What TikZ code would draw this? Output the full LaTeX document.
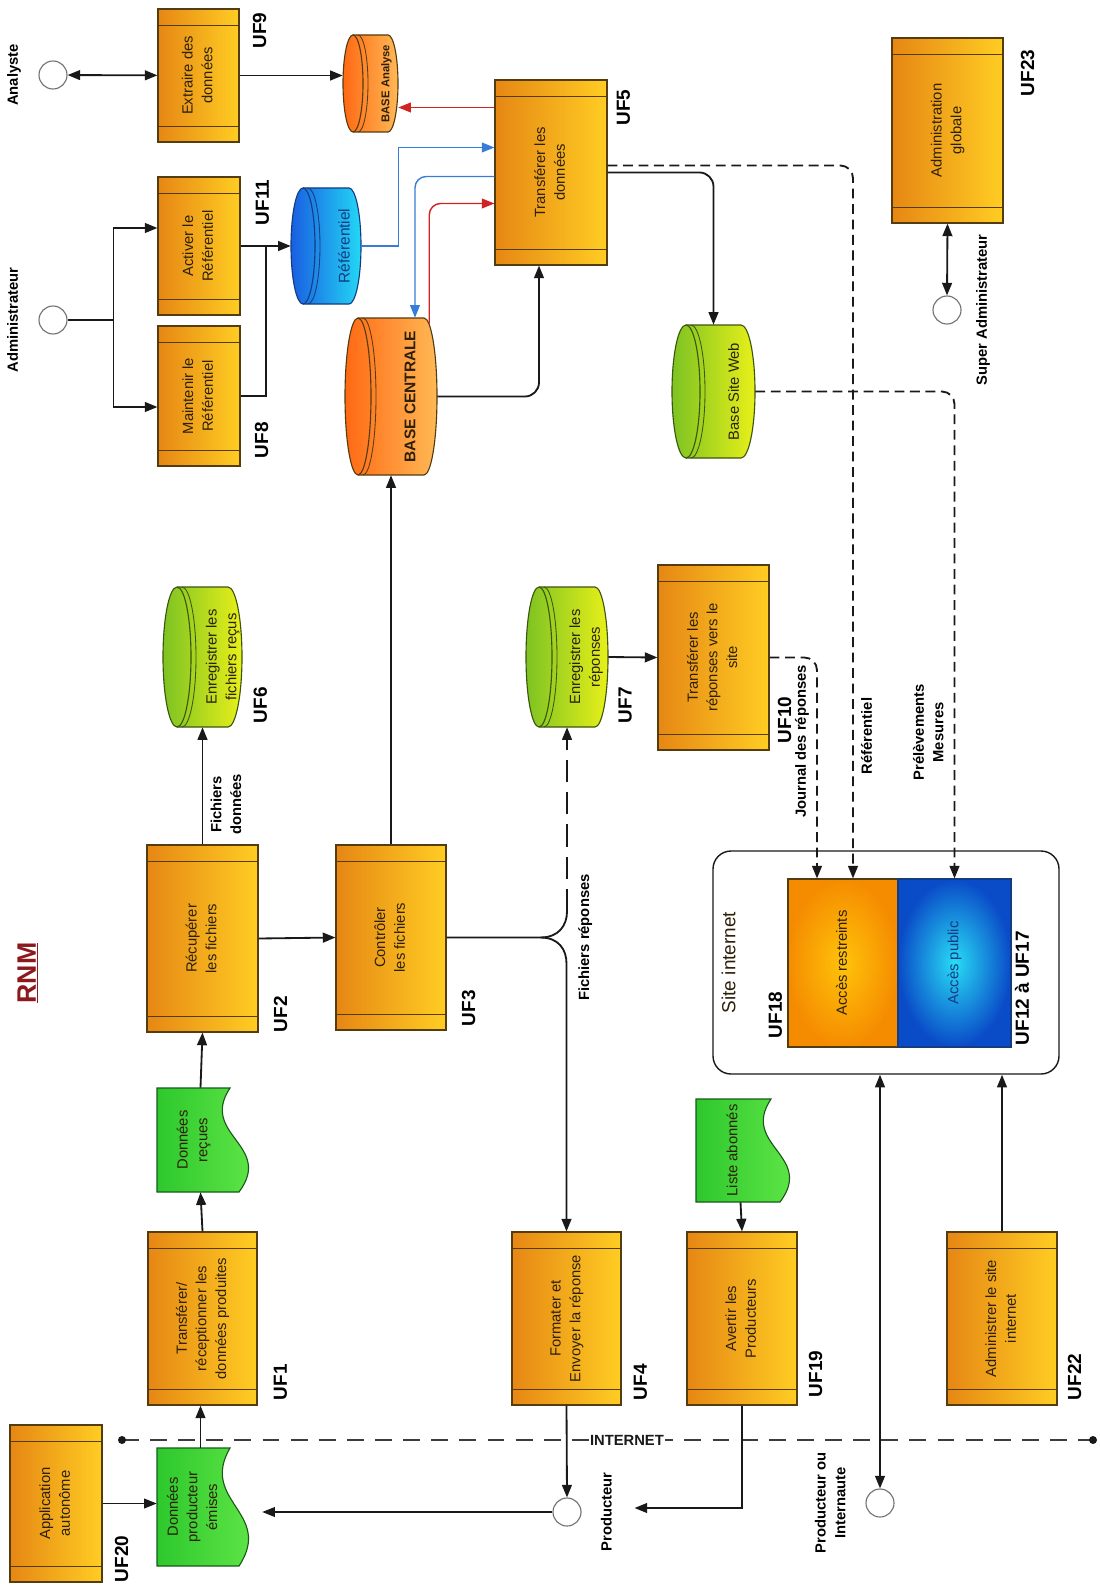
\documentclass[tikz,border=0pt]{standalone}
\usepackage{fontspec}
\setmainfont{Liberation Sans}
\usepackage{graphicx}
\usetikzlibrary{arrows.meta, positioning, calc, fit}

\definecolor{procL}{RGB}{230,135,20}
\definecolor{procR}{RGB}{255,205,35}
\definecolor{procline}{RGB}{85,60,15}
\definecolor{baseL}{RGB}{255,105,20}
\definecolor{baseR}{RGB}{255,185,85}
\definecolor{refL}{RGB}{25,95,225}
\definecolor{refR}{RGB}{35,215,245}
\definecolor{refline}{RGB}{20,60,130}
\definecolor{greenL}{RGB}{125,195,35}
\definecolor{greenR}{RGB}{232,240,25}
\definecolor{greenline}{RGB}{60,85,15}
\definecolor{docL}{RGB}{45,200,45}
\definecolor{docR}{RGB}{105,235,75}
\definecolor{docline}{RGB}{25,90,25}
\definecolor{arrowred}{RGB}{210,35,35}
\definecolor{arrowblue}{RGB}{55,125,215}
\definecolor{titlered}{RGB}{140,25,30}
\definecolor{textdark}{RGB}{45,32,10}
\definecolor{linecol}{RGB}{25,25,25}
\definecolor{pubin}{RGB}{40,220,245}
\definecolor{pubout}{RGB}{10,75,200}
\definecolor{resin}{RGB}{255,195,10}
\definecolor{resout}{RGB}{245,140,0}

\newcommand{\boxfont}{\fontsize{10.5}{14}\selectfont}
\newcommand{\uffont}{\fontsize{13.5}{15}\selectfont\bfseries}
\newcommand{\labfont}{\fontsize{10.5}{14}\selectfont\bfseries}
\newcommand{\uptext}[1]{\rotatebox{90}{\begin{tabular}{@{}c@{}}#1\end{tabular}}}

% cylinder lying on its side: name, x0, y0, x1, y1, end radius, shading, line colour, text
\newcommand{\basecyl}[9]{%
  \path[#7, draw=#8, line width=0.8pt]
    (#2+#6,#3) -- (#4-#6,#3)
    arc[start angle=-90, end angle=90, x radius=#6, y radius={(#5-#3)/2}]
    -- (#2+#6,#5)
    arc[start angle=90, end angle=270, x radius=#6, y radius={(#5-#3)/2}] -- cycle;
  \draw[#8, line width=0.8pt] (#2+#6,#3)
    arc[start angle=-90, end angle=90, x radius=#6, y radius={(#5-#3)/2}];
  \draw[#8, line width=0.6pt] (#2+#6+5,#3)
    arc[start angle=-90, end angle=90, x radius=#6, y radius={(#5-#3)/2}];
  \node[fit={(#2,#3) (#4,#5)}] (#1) {};
  \node (#1txt) at ({(#2+2*#6+#4)/2+6},{(#3+#5)/2}) {#9};}

% document sheet with a wavy right edge: name, x0, y0, x1, y1, text
\newcommand{\docsheet}[6]{%
  \path[left color=docL, right color=docR, draw=docline, line width=0.8pt]
    (#2,#3) -- (#4-14,#3)
    .. controls (#4-45,{#3+0.45*(#5-#3)}) and (#4+30,{#3+0.55*(#5-#3)}) .. (#4-5,#5)
    -- (#2,#5) -- cycle;
  \node[fit={(#2,#3) (#4,#5)}] (#1) {};
  \node[font=\boxfont] (#1txt) at ({(#2+#4-14)/2},{(#3+#5)/2}) {#6};}

\begin{document}
\begin{tikzpicture}[x=0.025cm, y=-0.025cm,
    every node/.style={inner sep=0pt, text=textdark},
    boxtxt/.style={font=\boxfont, text=textdark},
    procbox/.style={draw=procline, line width=0.8pt, left color=procL, right color=procR,
      path picture={\draw[procline, line width=0.7pt]
        ([yshift=-0.4cm]path picture bounding box.north west) -- ([yshift=-0.4cm]path picture bounding box.north east)
        ([yshift=0.4cm]path picture bounding box.south west) -- ([yshift=0.4cm]path picture bounding box.south east);}},
    actor/.style={circle, draw=black!55, fill=white, line width=0.8pt, minimum size=0.7cm},
    actorlab/.style={font=\labfont, text=black},
    uflab/.style={font=\uffont, text=black},
    edgelab/.style={font=\labfont, text=black},
    endtip/.style={-{Triangle[length=9pt, width=7pt]}},
    flow/.style={draw=linecol, line width=1.3pt, endtip},
    biflow/.style={draw=linecol, line width=1.3pt, {Triangle[length=9pt, width=7pt]}-{Triangle[length=9pt, width=7pt]}},
    plain/.style={draw=linecol, line width=1.3pt},
    dashflow/.style={flow, dash pattern=on 7pt off 4pt, rounded corners=9pt},
    redflow/.style={draw=arrowred, line width=1pt, endtip},
    blueflow/.style={draw=arrowblue, line width=1pt, endtip},
    netline/.style={draw=linecol!85, line width=1.3pt, dash pattern=on 12pt off 8pt}]

  \useasboundingbox (0,0) rectangle (1099,1596);

  % title
  \node[font=\fontsize{19}{21}\selectfont\bfseries, text=titlered] (rnm) at (28,973) {\rotatebox{90}{\underline{RNM}}};

  % actors
  \node[actor] (analyste) at (53,75) {};
  \node[actorlab, left=0.36cm of analyste] (analystelab) {\uptext{Analyste}};
  \node[actor] (admin) at (53,320) {};
  \node[actorlab, left=0.36cm of admin] (adminlab) {\uptext{Administrateur}};
  \node[actor] (superadmin) at (947,310) {};
  \node[actorlab, right=0.28cm of superadmin] (superadminlab) {\uptext{Super Administrateur}};
  \node[actor] (prod) at (567,1512) {};
  \node[actorlab, right=0.4cm of prod] (prodlab) {\uptext{Producteur}};
  \node[actor] (internaute) at (880,1503) {};
  \node[actorlab, left=0.35cm of internaute] (internautelab) {\uptext{Producteur ou\\Internaute}};

  % processes
  \node[procbox, fit={(158,9) (239,142)}, label={[boxtxt]center:\uptext{Extraire des\\données}}] (uf9) {};
  \node[procbox, fit={(158,177) (240,315)}, label={[boxtxt]center:\uptext{Activer le\\Référentiel}}] (uf11) {};
  \node[procbox, fit={(158,326) (240,466)}, label={[boxtxt]center:\uptext{Maintenir le\\Référentiel}}] (uf8) {};
  \node[procbox, fit={(495,80) (607,265)}, label={[boxtxt]center:\uptext{Transférer les\\données}}] (uf5) {};
  \node[procbox, fit={(892,38) (1003,223)}, label={[boxtxt]center:\uptext{Administration\\globale}}] (uf23) {};
  \node[procbox, fit={(147,845) (258,1032)}, label={[boxtxt]center:\uptext{Récupérer\\les fichiers}}] (uf2) {};
  \node[procbox, fit={(336,845) (446,1030)}, label={[boxtxt]center:\uptext{Contrôler\\les fichiers}}] (uf3) {};
  \node[procbox, fit={(658,565) (769,750)}, label={[boxtxt]center:\uptext{Transférer les\\réponses vers le\\site}}] (uf10) {};
  \node[procbox, fit={(148,1232) (257,1405)}, label={[boxtxt]center:\uptext{Transférer/\\réceptionner les\\données produites}}] (uf1) {};
  \node[procbox, fit={(512,1232) (621,1405)}, label={[boxtxt]center:\uptext{Formater et\\Envoyer la réponse}}] (uf4) {};
  \node[procbox, fit={(687,1232) (797,1405)}, label={[boxtxt]center:\uptext{Avertir les\\Producteurs}}] (uf19) {};
  \node[procbox, fit={(947,1232) (1057,1405)}, label={[boxtxt]center:\uptext{Administrer le site\\internet}}] (uf22) {};
  \node[procbox, fit={(10,1425) (102,1582)}, label={[boxtxt]center:\uptext{Application\\autonôme}}] (uf20) {};

  % data stores
  \basecyl{baseana}{343}{35}{398}{132}{10}{left color=baseL, right color=baseR}{procline}{\fontsize{8}{9}\selectfont\bfseries\rotatebox{90}{BASE Analyse}}
  \basecyl{ref}{291}{188}{361}{304}{12}{left color=refL, right color=refR}{refline}{\fontsize{11}{13}\selectfont\color{refline}\rotatebox{90}{Référentiel}}
  \basecyl{bc}{345}{318}{437}{475}{13}{left color=baseL, right color=baseR}{procline}{\fontsize{11}{13}\selectfont\bfseries\rotatebox{90}{BASE CENTRALE}}
  \basecyl{bsw}{672}{325}{755}{458}{14}{left color=greenL, right color=greenR}{greenline}{\fontsize{10.5}{13}\selectfont\rotatebox{90}{Base Site Web}}
  \basecyl{uf6}{163}{587}{242}{727}{14}{left color=greenL, right color=greenR}{greenline}{\boxfont\uptext{Enregistrer les\\fichiers reçus}}
  \basecyl{uf7}{526}{587}{608}{727}{13}{left color=greenL, right color=greenR}{greenline}{\boxfont\uptext{Enregistrer les\\réponses}}

  % documents
  \docsheet{dr}{157}{1088}{244}{1192}{\uptext{Données\\reçues}}
  \docsheet{dpe}{157}{1448}{244}{1566}{\uptext{Données\\producteur\\émises}}
  \docsheet{lab}{696}{1099}{785}{1202}{\uptext{Liste abonnés}}

  % web site
  \node[draw=linecol, line width=1pt, rounded corners=0.45cm, fill=white, fit={(713,851) (1059,1074)}] (site) {};
  \node[font=\fontsize{13.5}{15}\selectfont, anchor=west] (sitelab) at ($(site.west)+(9,0)$) {\rotatebox{90}{Site internet}};
  \node[draw=procline, line width=0.8pt, inner color=resin, outer color=resout, fit={(788,879) (898,1047)},
    label={[boxtxt]center:\uptext{Accès restreints}}] (acr) {};
  \node[draw=refline, line width=0.8pt, inner color=pubin, outer color=pubout, fit={(898,879) (1011,1047)},
    label={[boxtxt, text=refline]center:\uptext{Accès public}}] (acp) {};

  % UF numbers
  \node[uflab, anchor=north west] (n9) at ($(uf9.north east)+(13,4)$) {\rotatebox{90}{UF9}};
  \node[uflab, anchor=north west] (n11) at ($(uf11.north east)+(15,3)$) {\rotatebox{90}{UF11}};
  \node[uflab, anchor=south west] (n8) at ($(uf8.south east)+(14,-8)$) {\rotatebox{90}{UF8}};
  \node[uflab, anchor=north west] (n5) at ($(uf5.north east)+(9,10)$) {\rotatebox{90}{UF5}};
  \node[uflab, anchor=north west] (n23) at ($(uf23.north east)+(17,12)$) {\rotatebox{90}{UF23}};
  \node[uflab, anchor=south west] (n6) at ($(uf6.south east)+(11,-4)$) {\rotatebox{90}{UF6}};
  \node[uflab, anchor=south west] (n2) at ($(uf2.south east)+(15,0)$) {\rotatebox{90}{UF2}};
  \node[uflab, anchor=south west] (n3) at ($(uf3.south east)+(15,-4)$) {\rotatebox{90}{UF3}};
  \node[uflab, anchor=south west] (n7) at ($(uf7.south east)+(10,-4)$) {\rotatebox{90}{UF7}};
  \node[uflab, anchor=south west] (n10) at ($(uf10.south east)+(8,-7)$) {\rotatebox{90}{UF10}};
  \node[uflab, anchor=south west] (n1) at ($(uf1.south east)+(16,-5)$) {\rotatebox{90}{UF1}};
  \node[uflab, anchor=south west] (n4) at ($(uf4.south east)+(12,-5)$) {\rotatebox{90}{UF4}};
  \node[uflab, anchor=south west] (n19) at ($(uf19.south east)+(11,-8)$) {\rotatebox{90}{UF19}};
  \node[uflab, anchor=south west] (n22) at ($(uf22.south east)+(10,-5)$) {\rotatebox{90}{UF22}};
  \node[uflab, anchor=south west] (n20) at ($(uf20.south east)+(12,0)$) {\rotatebox{90}{UF20}};
  \node[uflab, anchor=south east] (n18) at ($(acr.south west)+(-5,-9)$) {\rotatebox{90}{UF18}};
  \node[uflab, anchor=south west] (n12) at ($(acp.south east)+(3,-2)$) {\rotatebox{90}{UF12 à UF17}};

  % Internet boundary
  \coordinate (netL) at (122,1440);
  \coordinate (netR) at (1093,1440);
  \draw[netline] (netL) -- (netR) node[pos=0.52, fill=white, font=\labfont, text=linecol, inner sep=1pt] (netlab) {INTERNET};
  \fill[linecol] (netL) circle[radius=4] (netR) circle[radius=4];

  % flows
  \draw[biflow] (analyste) -- (uf9);
  \draw[flow] (uf9.east) -- (uf9.east -| baseana.west);
  \coordinate (admsplit) at ($(admin.east)+(46,0)$);
  \draw[plain] (admin.east) -- (admsplit);
  \draw[flow] (admsplit) |- ($(uf11.west)+(0,-18)$);
  \draw[flow] (admsplit) |- ($(uf8.west)+(0,11)$);
  \draw[flow] (uf11.east) -- (ref.west);
  \draw[plain] (uf8.east) -| ($(uf11.east)!0.5!(ref.west)$);
  \draw[blueflow] (ref.east) -- ++(37,0) |- ($(uf5.west)+(0,-25)$);
  \coordinate (uf5out) at ($(uf5.west)+(0,-65)$);
  \draw[redflow] (uf5out) -- (uf5out -| baseana.east);
  \draw[blueflow, rounded corners=8pt] ($(uf5.west)+(0,4)$) -| ($(bc.north)+(24,0)$);
  \draw[redflow, rounded corners=8pt] ($(bc.north east)+(-8,6)$) |- ($(uf5.west)+(0,31)$);
  \draw[flow, rounded corners=10pt] (bc.east) -| ($(uf5.south)+(-12,0)$);
  \draw[flow, rounded corners=10pt] (uf5.east) -| (bsw.north);
  \draw[dashflow] ($(uf5.east)+(0,-7)$) -| ($(acr.north)+(10,0)$)
    node[edgelab, pos=0.9, right=3pt] (reflab) {\uptext{Référentiel}};
  \draw[dashflow] (uf10.east) -| ($(acr.north)+(-26,0)$)
    node[edgelab, pos=0.69, left=3pt] (journallab) {\uptext{Journal des réponses}};
  \draw[dashflow] (bsw.east) -| (acp.north)
    node[edgelab, pos=0.85, left=3pt] (mesurelab) {\uptext{Prélèvements\\Mesures}};
  \draw[flow] (uf3.north) -- (bc.south);
  \draw[flow] (uf2.east) -- (uf3.west);
  \draw[flow] (uf2.north) -- (uf6.south)
    node[edgelab, pos=0.34, right=3pt] (fichlab) {\uptext{Fichiers\\données}};
  \draw[flow] (uf7.east) -- (uf10.west);
  \coordinate (fork) at ($(uf3.east)+(94,0)$);
  \coordinate (forkdn) at ($(uf3.east -| uf4.north)+(0,26)$);
  \coordinate (forkup) at ($(uf3.east -| uf7.south)+(0,-26)$);
  \draw[plain] (uf3.east) -- (fork) .. controls +(18,0) and +(0,14) .. (forkup);
  \draw[flow] (fork) .. controls +(18,0) and +(0,-14) .. (forkdn) -- (uf4.north);
  \draw[flow, dash pattern=on 16pt off 7pt] (forkup) -- (uf7.south);
  \node[edgelab, right=6pt] (replab) at (uf3.east -| uf4.north) {\uptext{Fichiers réponses}};
  \draw[flow] (uf4.south) -- (prod.north);
  \coordinate (uf19end) at ($(prod.east)+(53,-4)$);
  \draw[flow] (uf19.south) |- (uf19end);
  \draw[flow, line width=0.8pt] (prod.west) -- ($(prod.west -| dpe.east)+(18,0)$);
  \draw[flow, line width=0.8pt] (uf20.east) -- (uf20.east -| dpe.west);
  \draw[flow] (dpe.north) -- (dpe.north |- uf1.south);
  \draw[flow] (uf1.north) -- (dr.south);
  \draw[flow] (dr.north) -- (uf2.south);
  \draw[flow] (lab.south) -- (uf19.north);
  \draw[flow] (uf22.north) -- (uf22.north |- site.south);
  \draw[biflow] (internaute.north) -- (internaute.north |- site.south);
  \draw[biflow] (uf23.south) -- (superadmin.north);
\end{tikzpicture}
\end{document}
